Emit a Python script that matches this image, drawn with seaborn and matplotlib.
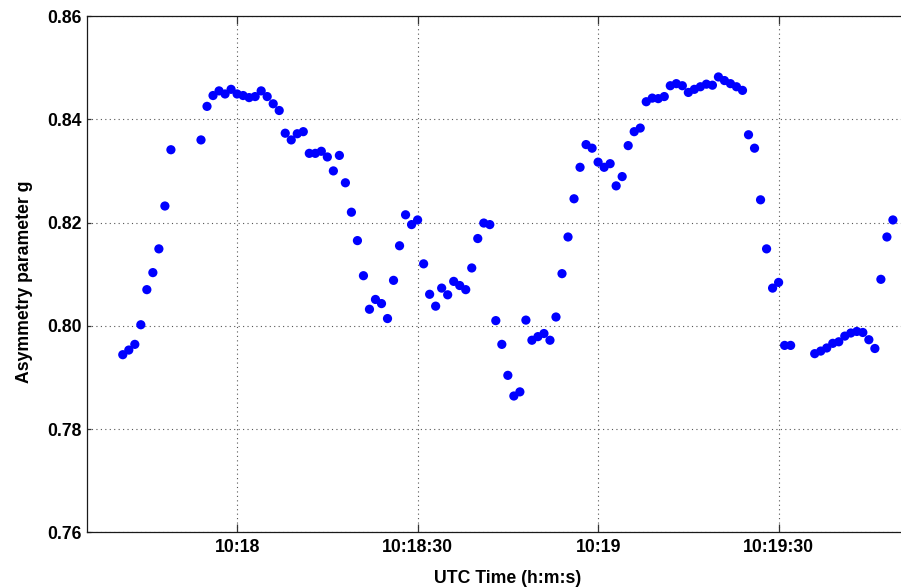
import matplotlib
matplotlib.use("Agg")
import matplotlib.pyplot as plt
import matplotlib.dates as mdates
from matplotlib.ticker import FuncFormatter
import numpy as np
import pandas as pd
import seaborn as sns

# Sample times, in seconds after 10:18:00 UTC
seconds = [
    -19, -18, -17, -16, -15, -14, -13, -12, -11,
    -6, -5, -4, -3, -2, -1, 0, 1, 2, 3, 4, 5, 6, 7, 8, 9, 10,
    11, 12, 13, 14, 15, 16, 17, 18, 19, 20, 21, 22, 23, 24, 25,
    26, 27, 28, 29, 30, 31, 32, 33, 34, 35, 36, 37, 38, 39, 40,
    41, 42, 43, 44, 45, 46, 47, 48, 49, 50, 51, 52, 53, 54, 55,
    56, 57, 58, 59, 60, 61, 62, 63, 64, 65, 66, 67, 68, 69, 70,
    71, 72, 73, 74, 75, 76, 77, 78, 79, 80, 81, 82, 83, 84, 85,
    86, 87, 88, 89, 90, 91, 92,
    96, 97, 98, 99, 100, 101, 102, 103, 104, 105, 106, 107, 108, 109,
]

# Retrieved asymmetry parameter g
asymmetry_g = [
    0.7944, 0.7953, 0.7964, 0.8002, 0.8070, 0.8103, 0.8149, 0.8232, 0.8341,
    0.8360, 0.8425, 0.8446, 0.8455, 0.8449, 0.8458, 0.8449, 0.8446, 0.8442,
    0.8444, 0.8455, 0.8444, 0.8430, 0.8417, 0.8373, 0.8360, 0.8372,
    0.8376, 0.8334, 0.8334, 0.8338, 0.8327, 0.8300, 0.8330, 0.8277, 0.8220,
    0.8165, 0.8097, 0.8032, 0.8051, 0.8043, 0.8014,
    0.8088, 0.8155, 0.8215, 0.8196, 0.8205, 0.8120, 0.8061, 0.8038, 0.8073,
    0.8060, 0.8086, 0.8078, 0.8070, 0.8112, 0.8169,
    0.8199, 0.8196, 0.8010, 0.7964, 0.7904, 0.7864, 0.7872, 0.8011, 0.7972,
    0.7979, 0.7985, 0.7972, 0.8017, 0.8101, 0.8172,
    0.8246, 0.8307, 0.8351, 0.8344, 0.8317, 0.8307, 0.8314, 0.8271, 0.8289,
    0.8349, 0.8376, 0.8383, 0.8434, 0.8441, 0.8440,
    0.8444, 0.8465, 0.8469, 0.8465, 0.8452, 0.8458, 0.8463, 0.8468, 0.8466,
    0.8482, 0.8475, 0.8469, 0.8463, 0.8456, 0.8370,
    0.8344, 0.8244, 0.8149, 0.8073, 0.8084, 0.7962, 0.7962,
    0.7946, 0.7951, 0.7957, 0.7966, 0.7969, 0.7980, 0.7986, 0.7989, 0.7987,
    0.7973, 0.7956, 0.8090, 0.8172, 0.8205,
]

y_ticks = [0.76, 0.78, 0.80, 0.82, 0.84, 0.86]
x_range_seconds = [-25, 115]

reference = pd.Timestamp("2000-01-01 10:18:00")
df = pd.DataFrame({
    "time": reference + pd.to_timedelta(seconds, unit="s"),
    "g": asymmetry_g,
})

sns.set_theme(style="ticks")
plt.rcParams["font.family"] = ["Liberation Sans", "DejaVu Sans"]
plt.rcParams["font.weight"] = "bold"
plt.rcParams["text.color"] = "black"
plt.rcParams["xtick.labelcolor"] = "black"
plt.rcParams["ytick.labelcolor"] = "black"
plt.rcParams["axes.labelcolor"] = "black"

fig = plt.figure(figsize=(9.01, 5.87), dpi=100)
ax = fig.add_axes([0.0962, 0.0932, 0.9349, 0.8795])

sns.scatterplot(data=df, x="time", y="g", ax=ax, color=(0, 0, 1),
                s=44, linewidth=0, edgecolor="none", zorder=3)

ax.set_xlim(reference + pd.Timedelta(seconds=x_range_seconds[0]),
            reference + pd.Timedelta(seconds=x_range_seconds[1]))
ax.set_ylim(y_ticks[0], y_ticks[-1])
ax.set_yticks(y_ticks)
ax.yaxis.set_major_formatter(FuncFormatter(lambda v, p: f"{v:.2f}"))

ax.xaxis.set_major_locator(mdates.SecondLocator(bysecond=[0, 30]))


def hms_label(v, pos):
    d = mdates.num2date(v)
    if d.second == 0:
        return f"{d.hour}:{d.minute:02d}"
    return f"{d.hour}:{d.minute:02d}:{d.second:02d}"


ax.xaxis.set_major_formatter(FuncFormatter(hms_label))

ax.grid(True, linestyle=(0, (1, 3)), color="#555555", linewidth=0.8)
ax.set_axisbelow(True)

for side in ["left", "right", "top", "bottom"]:
    ax.spines[side].set_visible(True)
    ax.spines[side].set_color("#1a1a1a")
    ax.spines[side].set_linewidth(0.9)

ax.tick_params(axis="x", direction="in", length=6, width=0.9, color="#333333",
               top=True, bottom=True, labelsize=12.7, pad=5, labelcolor="black")
ax.tick_params(axis="y", direction="in", length=3, width=0.9, color="#333333",
               left=True, right=True, labelsize=12.7, pad=3.5, labelcolor="black")
for lbl in ax.get_xticklabels() + ax.get_yticklabels():
    lbl.set_fontweight("bold")

ax.set_xlabel("UTC Time (h:m:s)", fontsize=12.7, fontweight="bold",
              labelpad=10, color="black")
ax.set_ylabel("Asymmetry parameter g", fontsize=12.7, fontweight="bold",
              labelpad=10, color="black")
ax.yaxis.set_label_coords(-0.064, 0.485)

fig.savefig("out.png", dpi=100)
